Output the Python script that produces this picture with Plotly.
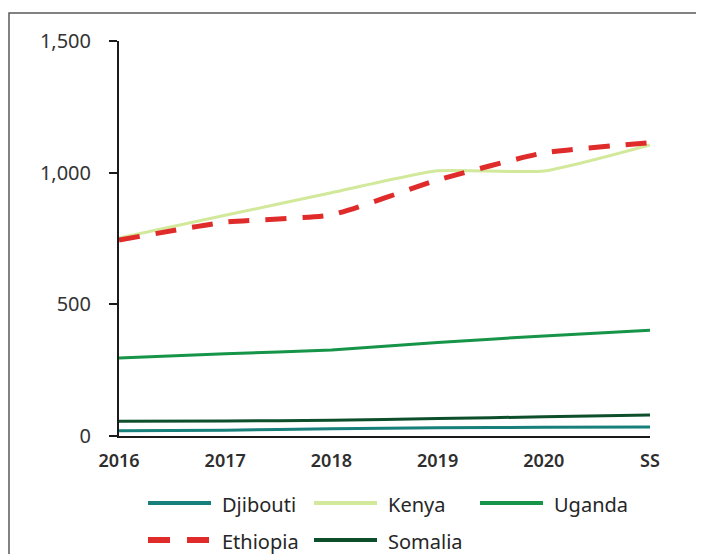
import plotly.graph_objects as go

# categories and series
years = ["2016", "2017", "2018", "2019", "2020", "SS"]
djibouti = [20, 22, 28, 31, 33, 34]
kenya = [752, 838, 924, 1007, 1006, 1105]
uganda = [296, 312, 327, 355, 380, 402]
ethiopia = [744, 812, 840, 972, 1075, 1114]
somalia = [56, 57, 60, 66, 73, 80]

names = ["Djibouti", "Kenya", "Uganda", "Ethiopia", "Somalia"]
values = [djibouti, kenya, uganda, ethiopia, somalia]
colors = ["#17807b", "#d2e89a", "#169448", "#e02b2b", "#0d4f2b"]
widths = [3, 3, 3, 5, 3]
dashes = ["solid", "solid", "solid", "21px,16px", "solid"]

# page body has an 8px margin, so the figure is shifted by that much
OFF = 8
W, H = 704 - OFF, 554 - OFF
L, R, T, B = 119 - OFF, 54, 41 - OFF, 118
pw, ph = W - L - R, H - T - B

def px_x(x):
    # page pixel -> paper coordinate
    return (x - OFF - L) / pw

def px_y(y):
    return (OFF + H - B - y) / ph

fig = go.Figure()

# draw order: back to front
for i in [2, 4, 0, 1, 3]:
    fig.add_trace(go.Scatter(
        x=years, y=values[i], name=names[i], mode="lines",
        line=dict(color=colors[i], width=widths[i], dash=dashes[i],
                  shape="spline", smoothing=0.5),
        showlegend=False,
    ))

# outer frame (cut off at right and bottom like the reference)
fig.add_shape(type="rect", xref="paper", yref="paper",
              x0=px_x(9), x1=px_x(720), y0=px_y(570), y1=px_y(13),
              line=dict(color="#5a5a5a", width=1.5))

# hand made legend: 3 columns, 2 rows
col_x = [148, 314, 480]
row_y = [503, 540]
for k, nm in enumerate(names):
    cx = col_x[k % 3]
    ry = row_y[k // 3]
    fig.add_shape(type="line", xref="paper", yref="paper",
                  x0=px_x(cx), x1=px_x(cx + 63), y0=px_y(ry), y1=px_y(ry),
                  line=dict(color=colors[k], width=4 if k != 3 else 6,
                            dash="22px,17px" if k == 3 else "solid"))
    fig.add_annotation(x=px_x(cx + 72), y=px_y(ry + 1), xref="paper", yref="paper",
                       text=nm, showarrow=False, xanchor="left", yanchor="middle",
                       font=dict(size=20, color="#262626"))

fig.update_layout(
    width=W, height=H,
    margin=dict(l=L, r=R, t=T, b=B),
    paper_bgcolor="white", plot_bgcolor="white",
    font=dict(family="Noto Sans, DejaVu Sans, sans-serif", color="#333333"),
    showlegend=False,
)
fig.update_xaxes(
    type="category", range=[0, 5], showgrid=False, zeroline=False,
    showline=True, linecolor="#1a1a1a", linewidth=2,
    ticks="", ticklabelstandoff=7,
    tickfont=dict(size=18, color="#2e2e2e", family="Noto Sans, sans-serif", weight=600),
)
fig.update_yaxes(
    range=[0, 1500], tickvals=[0, 500, 1000, 1500], tickformat=",",
    showgrid=False, zeroline=False,
    showline=True, linecolor="#1a1a1a", linewidth=2,
    ticks="outside", ticklen=8, tickwidth=1.5, tickcolor="#1a1a1a",
    ticklabelstandoff=14,
    tickfont=dict(size=20, color="#333333"),
)

fig.write_html("out.html")
